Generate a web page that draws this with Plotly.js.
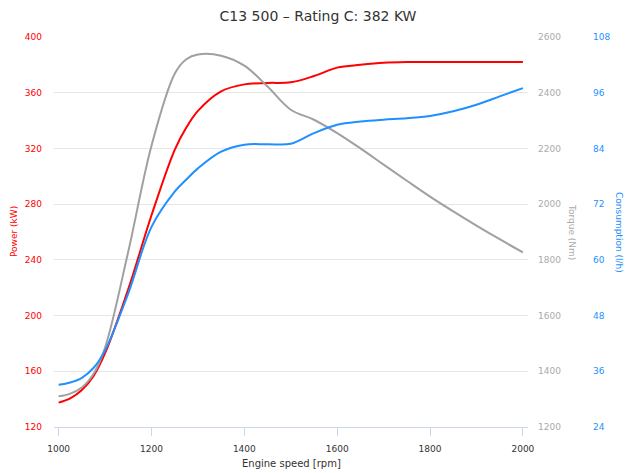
<!DOCTYPE html>
<html>
<head>
<meta charset="utf-8">
<script src="https://cdn.plot.ly/plotly-3.0.1.min.js"></script>
<style>
html,body{margin:0;padding:0;background:#fff;}
#chart{width:625px;height:473px;}
</style>
</head>
<body>
<div id="chart"></div>
<script>
// ---- data ----
var rpm = [1000,1025,1050,1075,1100,1150,1200,1250,1275,1300,1350,1400,1450,1500,1550,1600,1650,1700,1750,1800,1850,1900,1950,2000];
var power = [137.5,140.5,146.5,156.5,173,219,272,319,335,347,361,366,367,367.5,372,378,380,381.5,382,382,382,382,382,382];
var torque = [1310,1320,1342,1390,1485,1830,2210,2468,2520,2537,2533,2497,2422,2339,2303,2255,2200,2142,2084,2027,1974,1923,1874,1827];
var consumption = [33.1,33.6,34.6,36.7,40.5,52.8,67.1,74.7,77.3,79.7,83.3,84.8,84.9,85.0,87.3,89.1,89.8,90.2,90.5,91.0,92.0,93.4,95.2,97.0];

var powerTicks = [120,160,200,240,280,320,360,400];
var torqueTicks = [1200,1400,1600,1800,2000,2200,2400,2600];
var consTicks = [24,36,48,60,72,84,96,108];
var rpmTicks = [1000,1200,1400,1600,1800,2000];

var chartTitle = 'C13 500 – Rating C: 382 KW';
var xTitle = 'Engine speed [rpm]';
var powerTitle = 'Power (kW)';
var torqueTitle = 'Torque (Nm)';
var consTitle = 'Consumption (l/h)';

// ---- styles ----
var RED = '#ff0000', GRAY = '#a0a0a0', GRAYLBL = '#aaaaaa', BLUE = '#1e90ff';
var FONT = 'DejaVu Sans, Verdana, sans-serif';

var L = 54, R = 5, T = 37, B = 46, W = 625, H = 473;
var plotRight = 528;
var pw = W - L - R, ph = H - T - B;
function fx(px){ return (px - L) / pw; }
function fy(py){ return (H - B - py) / ph; }

var traces = [
  {x: rpm, y: power, type: 'scatter', mode: 'lines', name: 'Power', yaxis: 'y',
   line: {color: RED, width: 2, shape: 'spline', smoothing: 1}, hoverinfo: 'skip'},
  {x: rpm, y: torque, type: 'scatter', mode: 'lines', name: 'Torque', yaxis: 'y2',
   line: {color: GRAY, width: 2, shape: 'spline', smoothing: 1}, hoverinfo: 'skip'},
  {x: rpm, y: consumption, type: 'scatter', mode: 'lines', name: 'Consumption', yaxis: 'y3',
   line: {color: BLUE, width: 2, shape: 'spline', smoothing: 1}, hoverinfo: 'skip'}
];

var layout = {
  width: W, height: H,
  margin: {l: L, r: R, t: T, b: B, pad: 0},
  paper_bgcolor: '#fff', plot_bgcolor: '#fff',
  showlegend: false,
  font: {family: FONT, size: 9, color: '#333'},
  title: {text: chartTitle, font: {family: FONT, size: 14, color: '#333'},
          x: fx(318), xref: 'paper', xanchor: 'center', y: 1 - 16/H, yref: 'container', yanchor: 'middle'},
  xaxis: {
    domain: [0, fx(plotRight)],
    range: [990, 2011], tickvals: rpmTicks, ticktext: rpmTicks.map(String),
    showgrid: false, zeroline: false,
    showline: true, linecolor: '#ccd6eb', linewidth: 1,
    ticks: 'outside', ticklen: 8, tickcolor: '#ccd6eb', tickwidth: 1,
    ticklabelstandoff: 5,
    tickfont: {family: FONT, size: 9, color: '#333'},
    automargin: false, fixedrange: true
  },
  yaxis: {
    range: [120, 400], tickvals: powerTicks, ticktext: powerTicks.map(String),
    showgrid: true, gridcolor: '#e6e6e6', gridwidth: 1, zeroline: false, showline: false,
    ticks: '', ticklabelstandoff: 11,
    tickfont: {family: FONT, size: 9, color: RED},
    automargin: false, fixedrange: true
  },
  yaxis2: {
    overlaying: 'y', side: 'right', anchor: 'x',
    range: [1200, 2600], tickvals: torqueTicks, ticktext: torqueTicks.map(String),
    showgrid: false, zeroline: false, showline: false,
    ticks: '', ticklabelstandoff: 9,
    tickfont: {family: FONT, size: 9, color: GRAYLBL},
    automargin: false, fixedrange: true
  },
  yaxis3: {
    overlaying: 'y', side: 'right', anchor: 'free', position: fx(583),
    range: [24, 108], tickvals: consTicks, ticktext: consTicks.map(String),
    showgrid: false, zeroline: false, showline: false,
    ticks: '', ticklabelstandoff: 9,
    tickfont: {family: FONT, size: 9, color: BLUE},
    automargin: false, fixedrange: true
  },
  annotations: [
    {text: xTitle, xref: 'paper', yref: 'paper', x: fx(291), y: fy(463), xanchor: 'center', yanchor: 'middle',
     showarrow: false, font: {family: FONT, size: 10, color: '#333'}},
    {text: powerTitle, xref: 'paper', yref: 'paper', x: fx(14), y: fy(232), xanchor: 'center', yanchor: 'middle',
     textangle: -90, showarrow: false, font: {family: FONT, size: 9, color: RED}},
    {text: torqueTitle, xref: 'paper', yref: 'paper', x: fx(572), y: fy(232), xanchor: 'center', yanchor: 'middle',
     textangle: 90, showarrow: false, font: {family: FONT, size: 9, color: GRAYLBL}},
    {text: consTitle, xref: 'paper', yref: 'paper', x: fx(619), y: fy(232), xanchor: 'center', yanchor: 'middle',
     textangle: 90, showarrow: false, font: {family: FONT, size: 9, color: BLUE}}
  ]
};

Plotly.newPlot('chart', traces, layout, {displayModeBar: false, staticPlot: true});
</script>
</body>
</html>
